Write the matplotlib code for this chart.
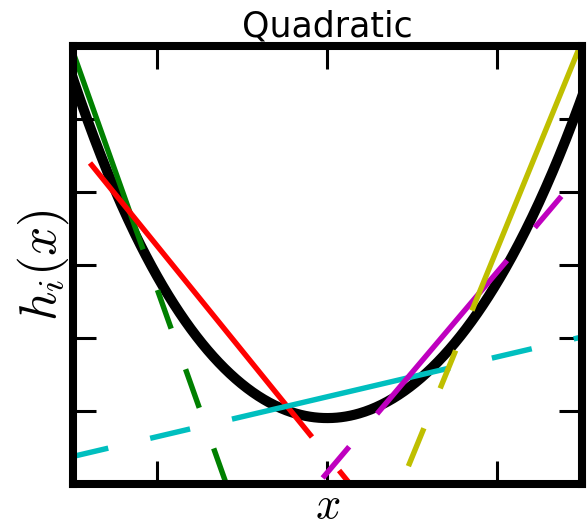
import numpy as np
import matplotlib
matplotlib.use("Agg")
import matplotlib.pyplot as plt

plt.rcParams['mathtext.fontset'] = 'cm'
plt.rcParams['lines.scale_dashes'] = False

# h(x) polynomial coefficients, increasing powers of x
curve_coeffs = [0.91, 0.0, 0.45, -0.005, 0.006]

# linear pieces: y = slope * x + intercept
line_colors = ['g', 'r', 'c', 'm', 'y']
line_slopes = [-3.277, -1.436, 0.273, 1.373, 2.847]
line_intercepts = [-3.888, 0.392, 1.202, 0.163, -2.469]
solid_from = [-3.2, -2.794, -1.122, 0.586, 1.704]
solid_to = [-2.169, -0.180, 1.445, 2.117, 3.2]
dash_left = [False, False, True, True, True]
dash_right = [True, True, True, True, False]

x_ticks = [-2, 0, 2]
y_ticks = [1, 2, 3, 4, 5]

DASH_ON, DASH_OFF = 29.5, 31.0
LW = 3.9

fig = plt.figure(figsize=(5.88, 5.26), dpi=100)
ax = fig.add_axes([0.1233, 0.0789, 0.8665, 0.8327])

xs = np.linspace(-3.3, 3.3, 500)
ax.plot(xs, np.polynomial.polynomial.polyval(xs, curve_coeffs),
        color='k', lw=7.3, zorder=2)

for c, m, b, x0, x1, dl, dr in zip(line_colors, line_slopes, line_intercepts,
                                    solid_from, solid_to, dash_left, dash_right):
    seg = np.array([x0, x1])
    ax.plot(seg, m * seg + b, color=c, lw=LW, solid_capstyle='butt', zorder=3)
    dash_style = (DASH_ON, (DASH_ON, DASH_OFF))
    if dr:
        seg = np.array([x1, 5.0])
        ax.plot(seg, m * seg + b, color=c, lw=LW, linestyle=dash_style,
                dash_capstyle='butt', zorder=3)
    if dl:
        seg = np.array([x0, -5.0])
        ax.plot(seg, m * seg + b, color=c, lw=LW, linestyle=dash_style,
                dash_capstyle='butt', zorder=3)

ax.set_xlim(-3, 3)
ax.set_ylim(0, 6)
ax.set_xticks(x_ticks)
ax.set_yticks(y_ticks)
ax.tick_params(direction='in', length=16.5, width=2.2, top=True, right=True,
               labelbottom=False, labelleft=False, color='k')
for s in ax.spines.values():
    s.set_linewidth(5.8)
    s.set_zorder(5)

ax.set_title('Quadratic', fontsize=25, pad=7, family='DejaVu Sans')
ax.set_ylabel('$h_i(x)$', fontsize=37, labelpad=1)
ax.set_xlabel('$x$', fontsize=32, labelpad=0)

fig.savefig('out.png', dpi=100)
